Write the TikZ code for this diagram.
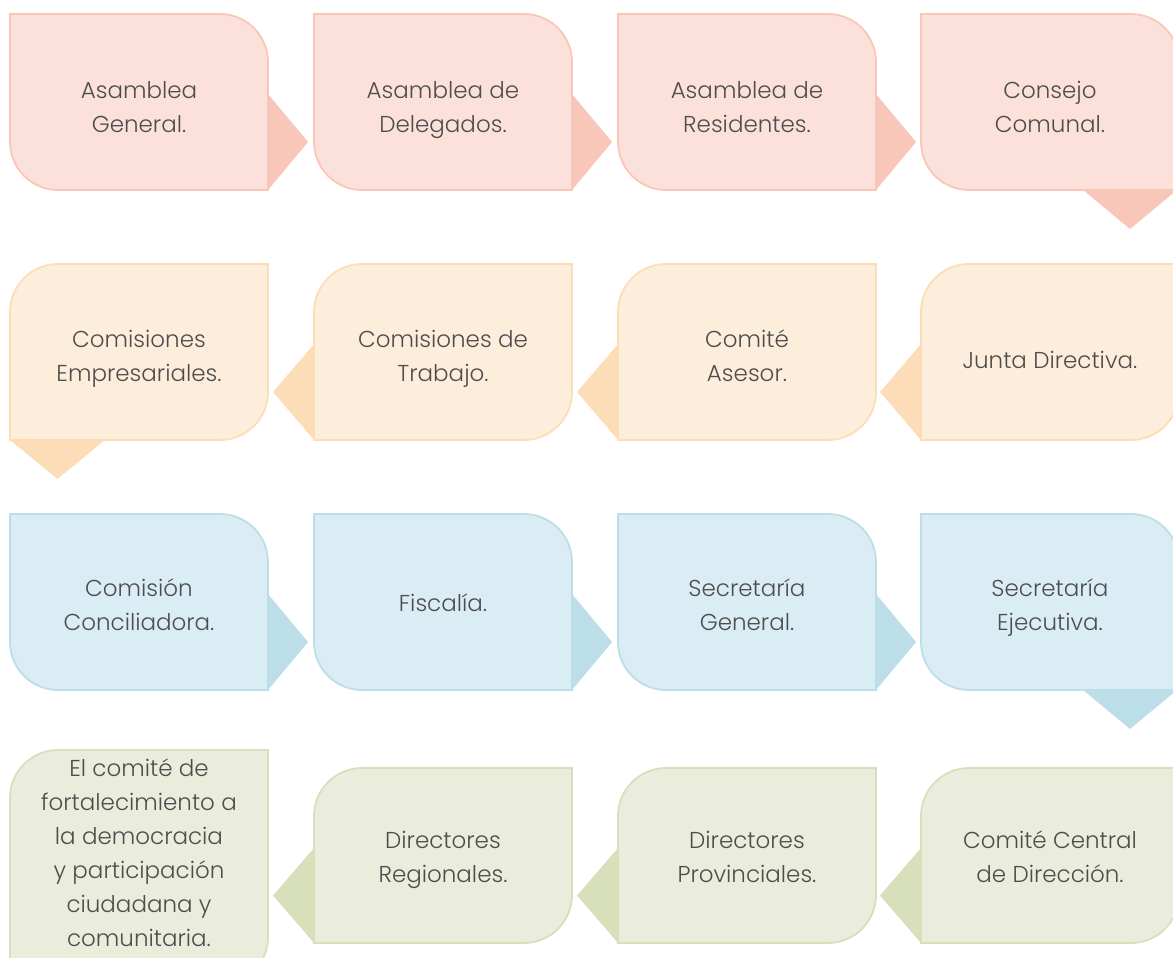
\documentclass[tikz,border=0pt]{standalone}
\usepackage{fontspec}
\setmainfont{Poppins Light}
\definecolor{txt}{HTML}{4D4D4D}
\definecolor{fA}{HTML}{FBE1D9}\definecolor{dA}{HTML}{F8C7B9}
\definecolor{fB}{HTML}{FDEEDC}\definecolor{dB}{HTML}{FCDDB8}
\definecolor{fC}{HTML}{DAEDF4}\definecolor{dC}{HTML}{BCDEE9}
\definecolor{fD}{HTML}{EAEDDC}\definecolor{dD}{HTML}{D7DFBB}
\newcommand{\rad}{48}
% right-type box: rounded top-right and bottom-left
\newcommand{\boxR}[6]{% L T R B fill border
  \path[fill=#5,draw=#6,line width=1.8pt] (#1,-#2) -- ({#3-\rad},-#2)
    arc[start angle=90,end angle=0,radius=\rad] -- (#3,-#4) -- ({#1+\rad},-#4)
    arc[start angle=270,end angle=180,radius=\rad] -- cycle;}
% left-type box: rounded top-left and bottom-right
\newcommand{\boxL}[6]{%
  \path[fill=#5,draw=#6,line width=1.8pt] (#1,{-#2-\rad})
    arc[start angle=180,end angle=90,radius=\rad] -- (#3,-#2) -- (#3,{-#4+\rad})
    arc[start angle=0,end angle=-90,radius=\rad] -- (#1,-#4) -- cycle;}
% pointers
\newcommand{\triR}[4]{% R T B color
  \fill[#4] (#1,{-#2-80}) -- ({#1+40},{-(#2+80+#3)/2}) -- (#1,-#3) -- cycle;}
\newcommand{\triL}[4]{% L T B color
  \fill[#4] (#1,{-#2-80}) -- ({#1-41},{-(#2+80+#3)/2}) -- (#1,-#3) -- cycle;}
\newcommand{\triD}[4]{% x1 x2 B color
  \fill[#4] (#1,-#3) -- ({(#1+#2)/2},{-#3-39}) -- (#2,-#3) -- cycle;}
\newcommand{\tx}[1]{\strut#1\strut}
\tikzset{lbl/.style={text=txt,align=center,font=\fontsize{23}{34}\selectfont,inner sep=0pt}}
\begin{document}
\begin{tikzpicture}[x=1pt,y=1pt]
\useasboundingbox (0,0) rectangle (1173,-958);
\clip (0,0) rectangle (1173,-958);
% ---- row 1
\triR{268}{14}{190}{dA}\triR{572}{14}{190}{dA}\triR{876}{14}{190}{dA}
\triD{1083}{1177}{190}{dA}
\boxR{10}{14}{268}{190}{fA}{dA}\boxR{314}{14}{572}{190}{fA}{dA}
\boxR{618}{14}{876}{190}{fA}{dA}\boxR{921}{14}{1179}{190}{fA}{dA}
\node[lbl] (a1) at (139,-109) {\tx{Asamblea\\General.}};
\node[lbl] (a2) at (443,-109) {\tx{Asamblea de\\Delegados.}};
\node[lbl] (a3) at (747,-109) {\tx{Asamblea de\\Residentes.}};
\node[lbl] (a4) at (1050,-109) {\tx{Consejo\\Comunal.}};
% ---- row 2
\triD{10}{105}{440}{dB}
\triL{314}{264}{440}{dB}\triL{618}{264}{440}{dB}\triL{921}{264}{440}{dB}
\boxL{10}{264}{268}{440}{fB}{dB}\boxL{314}{264}{572}{440}{fB}{dB}
\boxL{618}{264}{876}{440}{fB}{dB}\boxL{921}{264}{1179}{440}{fB}{dB}
\node[lbl] (b1) at (139,-358) {\tx{Comisiones\\Empresariales.}};
\node[lbl] (b2) at (443,-358) {\tx{Comisiones de\\Trabajo.}};
\node[lbl] (b3) at (747,-358) {\tx{Comité\\Asesor.}};
\node[lbl] (b4) at (1050,-362) {\tx{Junta Directiva.}};
% ---- row 3
\triR{268}{514}{690}{dC}\triR{572}{514}{690}{dC}\triR{876}{514}{690}{dC}
\triD{1083}{1177}{690}{dC}
\boxR{10}{514}{268}{690}{fC}{dC}\boxR{314}{514}{572}{690}{fC}{dC}
\boxR{618}{514}{876}{690}{fC}{dC}\boxR{921}{514}{1179}{690}{fC}{dC}
\node[lbl] (c1) at (139,-607) {\tx{Comisión\\Conciliadora.}};
\node[lbl] (c2) at (443,-605) {\tx{Fiscalía.}};
\node[lbl] (c3) at (747,-607) {\tx{Secretaría\\General.}};
\node[lbl] (c4) at (1050,-607) {\tx{Secretaría\\Ejecutiva.}};
% ---- row 4
\triL{314}{768}{943}{dD}\triL{618}{768}{943}{dD}\triL{921}{768}{943}{dD}
\boxL{10}{750}{268}{985}{fD}{dD}\boxL{314}{768}{572}{943}{fD}{dD}
\boxL{618}{768}{876}{943}{fD}{dD}\boxL{921}{768}{1179}{943}{fD}{dD}
\node[lbl] (d1) at (139,-855) {\tx{El comité de\\fortalecimiento a\\la democracia\\y participación\\ciudadana y\\comunitaria.}};
\node[lbl] (d2) at (443,-859) {\tx{Directores\\Regionales.}};
\node[lbl] (d3) at (747,-859) {\tx{Directores\\Provinciales.}};
\node[lbl] (d4) at (1050,-859) {\tx{Comité Central\\de Dirección.}};
\end{tikzpicture}
\end{document}
